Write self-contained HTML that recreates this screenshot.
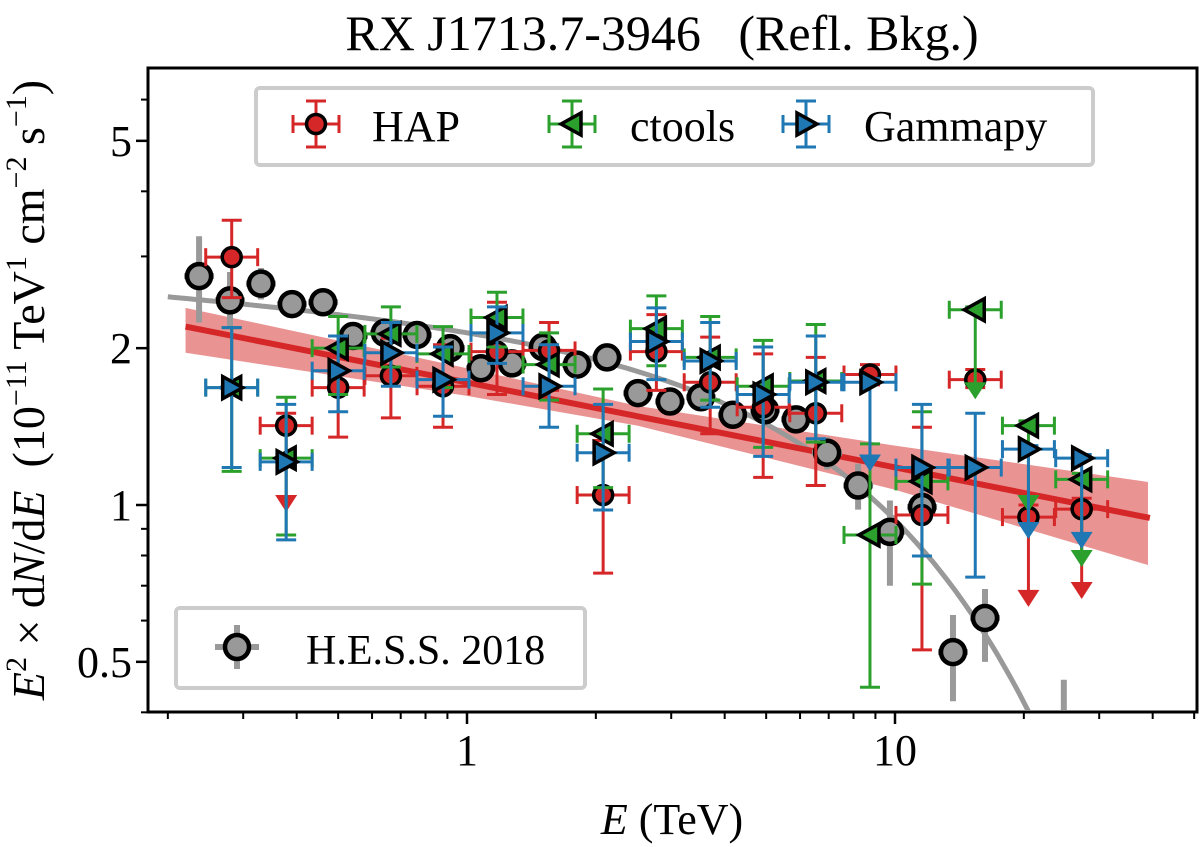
<!DOCTYPE html>
<html><head><meta charset="utf-8"><style>
html,body{margin:0;padding:0;background:#fff;width:1200px;height:847px;overflow:hidden;}
svg{display:block;font-family:"Liberation Serif",serif;}
text{white-space:pre;}
</style></head><body>
<svg id="chart" width="1200" height="847" viewBox="0 0 1200 847" xmlns="http://www.w3.org/2000/svg">
<defs><clipPath id="plotclip"><rect x="150" y="70" width="1045" height="640"/></clipPath></defs>
<text x="662" y="50" text-anchor="middle" font-size="50" xml:space="preserve">RX J1713.7-3946   (Refl. Bkg.)</text>
<text x="672" y="834" text-anchor="middle" font-size="44"><tspan font-style="italic">E</tspan> (TeV)</text>
<text transform="translate(44,390) rotate(-90)" text-anchor="middle" font-size="46"><tspan font-style="italic">E</tspan><tspan dy="-18" font-size="30">2</tspan><tspan dy="18"> × d</tspan><tspan font-style="italic">N</tspan>/d<tspan font-style="italic">E</tspan>  (10<tspan dy="-18" font-size="30">−11</tspan><tspan dy="18"> TeV</tspan><tspan dy="-18" font-size="30">1</tspan><tspan dy="18"> cm</tspan><tspan dy="-18" font-size="30">−2</tspan><tspan dy="18"> s</tspan><tspan dy="-18" font-size="30">−1</tspan><tspan dy="18">)</tspan></text>
<g id="axes"></g>
<g id="plot" clip-path="url(#plotclip)"></g>
<rect x="148" y="68" width="1049" height="644" fill="none" stroke="#000" stroke-width="3"/>
<g id="legends"></g>
</svg>
<script>
// ---- data ----
const binE = [0.282,0.378,0.500,0.664,0.879,1.175,1.555,2.08,2.77,3.70,4.92,6.53,8.74,11.56,15.4,20.5,27.3];
const hapF   = [2.99,1.42,1.68,1.77,1.69,1.97,1.98,1.045,1.97,1.72,1.54,1.50,1.78,0.957,1.74,0.948,0.982];
const hapHi  = [3.52,1.50,2.11,2.09,2.03,2.45,2.24,1.33,2.32,2.10,1.95,1.92,1.86,1.41,1.82,1.00,1.03];
const hapLo  = [2.50,0.978,1.35,1.47,1.41,1.63,1.66,0.74,1.66,1.37,1.13,1.09,1.70,0.527,1.68,0.643,0.666];
const hapUL  = [0,1,0,0,0,0,0,0,0,0,0,0,0,0,0,1,1];
const ctF    = [1.68,1.23,2.00,2.13,1.95,2.29,1.86,1.37,2.18,1.92,1.69,1.73,0.876,1.11,2.37,1.42,1.12];
const ctHi   = [2.19,1.61,2.30,2.40,2.20,2.56,2.14,1.67,2.52,2.30,2.07,2.22,1.31,1.51,2.40,1.45,1.15];
const ctLo   = [1.16,0.876,1.63,1.84,1.68,2.01,1.59,1.08,1.85,1.59,1.29,1.32,0.447,0.705,1.61,0.978,0.767];
const ctUL   = [0,0,0,0,0,0,0,0,0,0,0,0,0,0,1,1,1];
const gpF    = [1.68,1.21,1.81,1.96,1.74,2.14,1.69,1.26,2.06,1.89,1.63,1.72,1.72,1.18,1.18,1.28,1.23];
const gpHi   = [2.19,1.56,2.11,2.24,2.01,2.40,2.03,1.56,2.39,2.24,2.01,2.11,1.75,1.56,1.50,1.30,1.25];
const gpLo   = [1.18,0.857,1.51,1.69,1.48,1.87,1.41,0.978,1.74,1.54,1.24,1.34,1.17,0.798,0.727,0.868,0.831];
const gpUL   = [0,0,0,0,0,0,0,0,0,0,0,0,1,0,0,1,1];
const hessE  = [0.2366,0.2794,0.330,0.390,0.461,0.5415,0.643,0.764,0.913,1.078,1.274,1.505,1.807,2.124,2.51,2.98,3.52,4.18,4.97,5.87,6.94,8.20,9.73,11.57,13.66,16.23,24.8];
const hessF  = [2.75,2.47,2.66,2.43,2.45,2.11,2.14,2.12,2.00,1.83,1.87,2.01,1.86,1.92,1.64,1.58,1.61,1.49,1.52,1.46,1.26,1.09,0.888,0.991,0.522,0.607,0.30];
const hessHi = [3.28,2.80,2.85,2.55,2.55,2.20,2.23,2.20,2.08,1.90,1.95,2.09,1.94,2.00,1.71,1.65,1.68,1.56,1.60,1.54,1.35,1.20,1.02,1.07,0.615,0.69,0.462];
const hessLo = [2.24,2.20,2.48,2.32,2.35,2.02,2.05,2.04,1.92,1.76,1.79,1.93,1.78,1.84,1.57,1.51,1.54,1.42,1.44,1.38,1.17,0.98,0.70,0.915,0.42,0.50,0.20];
const ecplParams = [2.31, -0.061, 13.1]; // norm, index offset, cutoff (TeV)
const plParams = [2.2, 0.22, -0.163];    // norm, ref energy, slope
const bandE  = [0.22,1,2.5,10,39];
const bandHi = [2.39,1.83,1.55,1.30,1.107];
const bandLo = [1.96,1.62,1.42,1.07,0.767];
const yTickVals = [0.5,1,2,5];
const yTickLabels = ["0.5","1","2","5"];
const yMinor = [0.4,0.6,0.7,0.8,0.9,3,4,6];
const xTickVals = [1,10];
const xTickLabels = ["1","10"];
const xMinor = [0.2,0.3,0.4,0.5,0.6,0.7,0.8,0.9,2,3,4,5,6,7,8,9,20,30,40,50];

// ---- scales ----
const X0=467, XDEC=428, Y0=505, YDEC=521;
function xs(e){return X0+Math.log10(e)*XDEC;}
function ys(f){return Y0-Math.log10(f)*YDEC;}
const NS="http://www.w3.org/2000/svg";
function mk(tag,attrs,parent){const el=document.createElementNS(NS,tag);for(const k in attrs)el.setAttribute(k,attrs[k]);parent.appendChild(el);return el;}
const axes=document.getElementById('axes'), plot=document.getElementById('plot'), leg=document.getElementById('legends');
const RED="#d62728", GREEN="#2ca02c", BLUE="#1f77b4", GRAY="#999999";

// ---- axes ticks ----
yTickVals.forEach((v,i)=>{
  const y=ys(v);
  const t=mk('line',{x1:136,x2:148,y1:y,y2:y,stroke:'#000','stroke-width':2.5},axes);
  
  
  const l=mk('text',{x:132,y:y+15,'text-anchor':'end','font-size':44},axes);
  l.textContent=yTickLabels[i];
  
  
});
yMinor.forEach(v=>{
  const y=ys(v);
  const t=mk('line',{x1:141,x2:148,y1:y,y2:y,stroke:'#000','stroke-width':2},axes);
  
  
});
xTickVals.forEach((v,i)=>{
  const x=xs(v);
  const t=mk('line',{x1:x,x2:x,y1:712,y2:724,stroke:'#000','stroke-width':2.5},axes);
  
  
  const l=mk('text',{x:x,y:765,'text-anchor':'middle','font-size':44},axes);
  l.textContent=xTickLabels[i];
  
  
});
xMinor.forEach(v=>{
  const x=xs(v);
  if(x<149||x>1196) return;
  const t=mk('line',{x1:x,x2:x,y1:712,y2:719,stroke:'#000','stroke-width':2},axes);
  
  
});

// ---- band & fit lines ----
let pts=[];
bandE.forEach((e,i)=>pts.push(xs(e)+','+ys(bandHi[i])));
for(let i=bandE.length-1;i>=0;i--)pts.push(xs(bandE[i])+','+ys(bandLo[i]));
const band=mk('polygon',{points:pts.join(' '),fill:RED,'fill-opacity':0.5,stroke:'none'},plot);



let gp=[];
for(let lx=Math.log10(0.2);lx<=Math.log10(40);lx+=0.01){
  const e=Math.pow(10,lx);
  const f=ecplParams[0]*Math.pow(e,ecplParams[1])*Math.exp(-e/ecplParams[2]);
  gp.push(xs(e).toFixed(1)+','+ys(f).toFixed(1));
}
const gline=mk('polyline',{points:gp.join(' '),fill:'none',stroke:GRAY,'stroke-width':5},plot);



const plf=e=>plParams[0]*Math.pow(e/plParams[1],plParams[2]);
const rline=mk('line',{x1:xs(0.22),y1:ys(plf(0.22)),x2:xs(39.4),y2:ys(plf(39.4)),stroke:RED,'stroke-width':6},plot);



// ---- marker helpers ----
function marker(kind,x,y,color,parent){
  let el;
  if(kind==='circle') el=mk('circle',{cx:x,cy:y,r:9.5,fill:color,stroke:'#000','stroke-width':3.5},parent);
  else if(kind==='left') el=mk('polygon',{points:`${x-11},${y} ${x+9},${y-11} ${x+9},${y+11}`,fill:color,stroke:'#000','stroke-width':3.5,'stroke-linejoin':'miter'},parent);
  else el=mk('polygon',{points:`${x+11},${y} ${x-9},${y-11} ${x-9},${y+11}`,fill:color,stroke:'#000','stroke-width':3.5},parent);
  return el;
}
function errbar(x,y,xl,xr,yh,yl,ul,color,g){
  mk('line',{x1:xl,x2:xr,y1:y,y2:y,stroke:color,'stroke-width':3},g);
  mk('line',{x1:xl,x2:xl,y1:y-9,y2:y+9,stroke:color,'stroke-width':3},g);
  mk('line',{x1:xr,x2:xr,y1:y-9,y2:y+9,stroke:color,'stroke-width':3},g);
  mk('line',{x1:x,x2:x,y1:yh,y2:yl,stroke:color,'stroke-width':3},g);
  mk('line',{x1:x-10,x2:x+10,y1:yh,y2:yh,stroke:color,'stroke-width':3},g);
  if(ul){
    mk('polygon',{points:`${x-11},${yl-15} ${x+11},${yl-15} ${x},${yl+2}`,fill:color},g);
  } else {
    mk('line',{x1:x-10,x2:x+10,y1:yl,y2:yl,stroke:color,'stroke-width':3},g);
  }
}
function series(F,Hi,Lo,UL,color,kind,name){
  const g=mk('g',{},plot);
  
  
  binE.forEach((e,i)=>{
    const p=mk('g',{},g);
    
    
    const x=xs(e),y=ys(F[i]);
    errbar(x,y,xs(e/1.15),xs(e*1.15),ys(Hi[i]),ys(Lo[i]),UL[i],color,p);
  });
  binE.forEach((e,i)=>{
    const m=marker(kind,xs(e),ys(F[i]),color,g);
    
    
  });
}

// ---- HESS 2018 ----
const hg=mk('g',{},plot);


hessE.forEach((e,i)=>{
  const x=xs(e),y=ys(hessF[i]);
  mk('line',{x1:xs(e/1.084),x2:xs(e*1.084),y1:y,y2:y,stroke:GRAY,'stroke-width':6},hg);
  mk('line',{x1:x,x2:x,y1:ys(hessHi[i]),y2:ys(hessLo[i]),stroke:GRAY,'stroke-width':6},hg);
});
hessE.forEach((e,i)=>{
  const c=mk('circle',{cx:xs(e),cy:ys(hessF[i]),r:12,fill:GRAY,stroke:'#000','stroke-width':4.5},hg);
  
  
});

series(hapF,hapHi,hapLo,hapUL,RED,'circle','hap');
series(ctF,ctHi,ctLo,ctUL,GREEN,'left','ctools');
series(gpF,gpHi,gpLo,gpUL,BLUE,'right','gammapy');

// ---- legends ----
const lb=mk('rect',{x:256,y:88,width:837,height:77,rx:4,fill:'#fff','fill-opacity':0.8,stroke:'#cccccc','stroke-width':4},leg);


[[316,'HAP',RED,'circle',56],[572,'ctools',GREEN,'left',58],[806,'Gammapy',BLUE,'right',58]].forEach(d=>{
  const g=mk('g',{},leg);
  
  
  errbar(d[0],124,d[0]-23,d[0]+23,101,147,0,d[2],g);
  marker(d[3],d[0],124,d[2],g);
  const t=mk('text',{x:d[0]+d[4],y:141,'font-size':44},g);
  t.textContent=d[1];
});
const lb2=mk('rect',{x:176,y:608,width:409,height:80,rx:4,fill:'#fff','fill-opacity':0.8,stroke:'#cccccc','stroke-width':4},leg);


const hl=mk('g',{},leg);


mk('line',{x1:215,x2:259,y1:647,y2:647,stroke:GRAY,'stroke-width':6},hl);
mk('line',{x1:237,x2:237,y1:625,y2:669,stroke:GRAY,'stroke-width':6},hl);
mk('circle',{cx:237,cy:647,r:12,fill:GRAY,stroke:'#000','stroke-width':4.5},hl);
const ht=mk('text',{x:306,y:664,'font-size':42},hl);
ht.textContent='H.E.S.S. 2018';
</script>
</body></html>
